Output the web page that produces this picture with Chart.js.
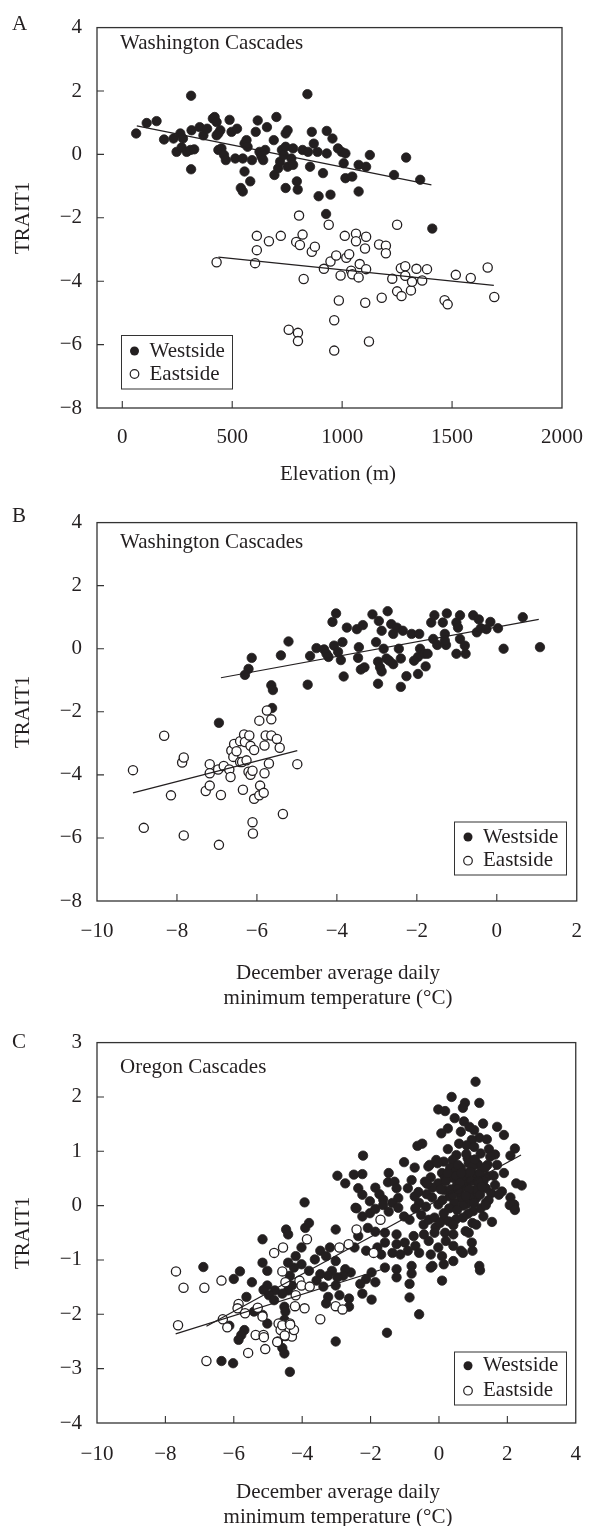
<!DOCTYPE html>
<html><head><meta charset="utf-8">
<script src="https://cdn.jsdelivr.net/npm/chart.js@4.4.1/dist/chart.umd.min.js"></script>
<style>
html,body{margin:0;padding:0;background:#fff;}
body{width:600px;height:1526px;position:relative;overflow:hidden;}
canvas{position:absolute;left:0;}
</style></head><body>
<canvas id="cA" width="600" height="495" style="top:0px"></canvas>
<canvas id="cB" width="600" height="520" style="top:495px"></canvas>
<canvas id="cC" width="600" height="511" style="top:1015px"></canvas>
<script>
// ---------------- DATA ----------------
// Panel A: Elevation (m) vs TRAIT1
const westA = [[63,0.66],[111,0.99],[156,1.05],[190,0.47],[233,0.5],[264,0.66],[276,0.5],[247,0.08],[270,0.22],[293,0.08],[315,0.76],[310,0.14],[327,0.16],[313,1.85],[313,-0.47],[352,0.86],[369,0.6],[386,0.81],[412,1.13],[420,1.18],[429,1.02],[437,0.66],[446,0.76],[429,0.6],[437,0.14],[451,0.19],[463,-0.02],[471,-0.18],[488,1.09],[497,0.71],[522,0.81],[514,-0.13],[548,-0.13],[556,-0.54],[539,-1.06],[548,-1.17],[582,-0.85],[556,0.34],[565,0.45],[570,0.24],[590,-0.18],[607,0.71],[616,1.07],[624,0.08],[633,-0.07],[641,-0.18],[650,0.14],[658,0.86],[689,0.45],[701,1.18],[692,-0.65],[709,-0.44],[718,-0.23],[726,0.14],[735,-0.02],[743,0.66],[752,0.76],[743,-1.06],[743,0.24],[752,-0.39],[769,-0.13],[777,-0.33],[777,0.19],[794,-0.85],[798,-1.11],[820,0.14],[842,1.9],[845,0.08],[862,0.71],[871,0.34],[854,-0.39],[888,0.08],[893,-1.32],[913,-0.59],[930,0.74],[930,0.03],[947,-1.27],[956,0.5],[981,0.19],[998,0.08],[1007,-0.28],[1015,-0.75],[1015,0.03],[1046,-0.7],[1075,-1.17],[1075,-0.33],[1109,-0.39],[1126,-0.02],[1236,-0.65],[1291,-0.1],[1355,-0.8],[927,-1.88],[1410,-2.34]];
const eastA = [[429,-3.4],[604,-3.43],[612,-2.57],[612,-3.02],[667,-2.74],[721,-2.57],[791,-2.76],[804,-1.93],[808,-2.86],[820,-2.53],[825,-3.93],[862,-3.07],[876,-2.91],[939,-2.22],[917,-3.61],[947,-3.38],[973,-3.19],[985,-4.61],[993,-3.82],[1012,-2.57],[1019,-3.26],[1032,-3.15],[1041,-3.67],[1046,-3.78],[1063,-2.5],[1063,-2.74],[1075,-3.88],[1080,-3.46],[1109,-2.6],[1104,-2.97],[1109,-3.62],[1105,-4.68],[964,-5.23],[964,-6.19],[1122,-5.9],[757,-5.53],[799,-5.63],[799,-5.89],[1168,-2.84],[1199,-2.88],[1199,-3.12],[1180,-4.52],[1250,-2.22],[1228,-3.92],[1250,-4.32],[1267,-3.59],[1270,-4.47],[1287,-3.53],[1287,-3.83],[1313,-4.29],[1318,-4.02],[1338,-3.61],[1364,-3.98],[1386,-3.62],[1466,-4.6],[1480,-4.73],[1517,-3.8],[1585,-3.9],[1662,-3.57],[1692,-4.5]];
const lineWestA = [[66,0.9],[1406,-0.96]];
const lineEastA = [[437,-3.24],[1690,-4.13]];
const xTicksA = [0,500,1000,1500,2000];
const yTicksA = [-8,-6,-4,-2,0,2,4];

// Panel B: December average daily minimum temperature vs TRAIT1 (Washington)
const westB = [[-6.13,-0.29],[-5.4,-0.21],[-5.21,0.23],[-4.67,-0.23],[-4.51,0.02],[-4.32,-0.02],[-4.26,-0.16],[-4.21,-0.26],[-4.11,0.85],[-4.02,1.12],[-4.07,0.1],[-3.97,-0.1],[-3.86,0.21],[-3.9,-0.36],[-3.75,0.67],[-3.5,0.62],[-3.47,-0.29],[-3.45,0.05],[-3.35,0.75],[-3.11,1.09],[-3.02,0.21],[-2.95,0.88],[-2.88,0.57],[-2.73,1.19],[-2.83,0],[-2.76,-0.31],[-2.64,0.78],[-2.59,0.47],[-2.5,0.67],[-2.45,0],[-2.4,-0.31],[-2.35,0.57],[-2.13,0.47],[-1.97,-0.26],[-1.94,0.47],[-1.92,0],[-1.81,-0.16],[-1.73,-0.16],[-1.64,0.83],[-1.56,1.06],[-1.59,0.31],[-1.49,0.12],[-1.35,0.83],[-1.3,0.47],[-1.27,0.12],[-1.25,1.12],[-1.3,0.26],[-1.01,-0.16],[-1.01,0.83],[-0.97,0.67],[-0.92,1.06],[-0.92,0.31],[-0.8,0.1],[-0.78,-0.16],[-0.59,1.06],[-0.45,0.93],[-0.5,0.52],[-0.4,0.65],[-0.26,0.62],[-0.16,0.85],[0.03,0.65],[0.17,0],[0.65,1.0],[1.08,0.05],[-6.21,-0.64],[-6.3,-0.83],[-4.73,-1.14],[-5.64,-1.16],[-5.6,-1.31],[-5.62,-1.88],[-6.95,-2.35],[-3.83,-0.88],[-3.4,-0.66],[-3.31,-0.59],[-2.97,-0.41],[-2.92,-0.59],[-2.97,-1.11],[-2.88,-0.72],[-2.69,-0.38],[-2.59,-0.49],[-2.4,-1.21],[-2.26,-0.87],[-2.07,-0.38],[-1.97,-0.8],[-1.78,-0.56]];
const eastB = [[-9.1,-3.85],[-8.83,-5.68],[-8.32,-2.76],[-8.15,-4.65],[-7.87,-3.61],[-7.83,-3.45],[-7.83,-5.92],[-7.28,-4.51],[-7.18,-4.34],[-7.18,-3.66],[-7.18,-3.95],[-6.97,-3.83],[-6.95,-6.22],[-6.9,-4.64],[-6.83,-3.72],[-6.69,-3.83],[-6.66,-4.07],[-6.64,-3.23],[-6.59,-3.43],[-6.57,-3.02],[-6.51,-3.25],[-6.42,-3.59],[-6.42,-2.93],[-6.37,-3.59],[-6.35,-4.47],[-6.32,-2.72],[-6.3,-2.96],[-6.26,-3.54],[-6.21,-3.9],[-6.19,-2.75],[-6.16,-3.08],[-6.16,-4.0],[-6.11,-3.87],[-6.1,-5.86],[-6.11,-5.5],[-6.07,-4.76],[-6.07,-3.21],[-5.94,-4.65],[-5.92,-4.34],[-5.94,-2.28],[-5.83,-4.57],[-5.81,-3.07],[-5.81,-3.95],[-5.78,-2.75],[-5.75,-1.96],[-5.7,-3.64],[-5.64,-2.24],[-5.64,-2.75],[-5.5,-2.86],[-5.43,-3.14],[-5.35,-5.24],[-4.99,-3.66]];
const lineWestB = [[-6.9,-0.92],[1.05,0.93]];
const lineEastB = [[-9.1,-4.57],[-4.99,-3.23]];
const xTicksB = [-10,-8,-6,-4,-2,0,2];
const yTicksB = [-8,-6,-4,-2,0,2,4];

// Panel C: December average daily minimum temperature vs TRAIT1 (Oregon)
const westC = [[1.07,2.28],[0.37,2.0],[1.18,1.89],[0.76,1.89],[0.7,1.8],[-0.02,1.77],[0.18,1.74],[0.46,1.61],[1.29,1.51],[0.73,1.55],[0.89,1.45],[1.03,1.39],[0.26,1.42],[0.07,1.33],[0.64,1.36],[1.7,1.45],[1.9,1.3],[1.18,1.25],[1.4,1.22],[0.96,1.21],[-0.49,1.14],[-0.63,1.1],[0.59,1.14],[0.81,1.11],[1.46,1.04],[2.22,1.05],[0.26,1.04],[1.03,1.08],[0.51,0.93],[1.22,0.96],[1.64,0.94],[2.09,0.92],[-2.22,0.92],[0.84,0.87],[0.4,0.84],[-0.08,0.84],[0.14,0.81],[-0.27,0.75],[-0.04,0.78],[0.87,0.78],[1.14,0.76],[1.7,0.75],[-1.02,0.8],[-0.71,0.7],[-0.31,0.72],[0.33,0.7],[0.64,0.69],[0.98,0.72],[1.42,0.75],[-1.47,0.6],[-2.49,0.57],[-2.24,0.58],[-2.97,0.55],[0.09,0.6],[0.48,0.63],[1.09,0.57],[1.42,0.54],[-0.24,0.52],[0.18,0.51],[0.81,0.46],[1.11,0.44],[-2.74,0.41],[-1.49,0.43],[-1.3,0.44],[-0.8,0.47],[-0.41,0.44],[-0.02,0.41],[0.53,0.38],[0.42,0.51],[0.7,0.54],[1.37,0.32],[1.64,0.38],[1.84,0.26],[2.26,0.41],[2.42,0.37],[-2.36,0.32],[-1.86,0.33],[-1.24,0.32],[-0.91,0.32],[-0.19,0.33],[0.14,0.29],[0.98,0.27],[1.53,0.23],[-2.24,0.2],[-1.74,0.21],[-1.19,0.14],[-0.71,0.17],[-0.36,0.21],[0.31,0.17],[0.64,0.14],[1.09,0.14],[2.09,0.15],[1.37,0.05],[-3.93,0.06],[-2.02,0.08],[-1.63,0.11],[-1.36,0.05],[-0.58,0.05],[-0.02,0.02],[0.81,0.03],[2.2,0.02],[-2.44,-0.04],[2.2,-0.04],
[0.2,0.45],[0.35,0.3],[0.5,0.55],[0.6,0.25],[0.75,0.35],[0.85,0.6],[0.95,0.45],[1.1,0.3],[1.2,0.6],[1.3,0.45],[0.1,0.1],[0.45,0.05],[0.7,0.0],[0.9,0.15],[1.0,-0.1],[1.2,0.2],[0.3,-0.05],[0.55,0.75],[0.8,0.95],[1.05,0.85],[-0.2,0.15],[-0.35,0.4],[0.62,0.42],[0.88,0.3],
[0.25,0.6],[0.4,0.2],[0.55,0.3],[0.65,0.6],[0.78,0.18],[0.92,0.62],[1.02,0.05],[1.15,0.45],[1.25,0.35],[1.35,0.7],[0.15,-0.25],[0.5,-0.25],[0.85,-0.15],[1.45,0.1],[1.6,0.55],[1.75,0.2],[1.9,0.6],[-0.6,0.25],[-0.45,-0.35],[-0.1,-0.4],[0.05,0.3],[1.3,-0.2],[1.55,-0.3],[1.5,0.9],
[-2.41,-0.05],[-2.24,-0.2],[-2.02,-0.14],[-1.86,-0.06],[-1.63,0.01],[-1.47,-0.11],[-1.19,-0.04],[-1.02,-0.2],[-0.86,-0.26],[-0.69,-0.05],[-0.52,-0.17],[-0.38,-0.02],[-0.3,-0.26],[-0.13,-0.22],[0.03,-0.32],[0.14,-0.14],[0.29,-0.29],[0.42,-0.36],[0.53,-0.08],[0.7,-0.22],[0.78,-0.47],[0.98,-0.32],[1.09,-0.35],[1.22,-0.05],[1.37,0.01],[2.07,0.01],[2.22,-0.08],[0.87,-0.5],[0.42,-0.53],[0.18,-0.5],[-0.13,-0.5],[-0.44,-0.53],[-0.74,-0.56],[-1.24,-0.53],[-1.58,-0.5],[-1.86,-0.48],[-2.08,-0.41],[-2.36,-0.56],[-3.02,-0.44],[-3.91,-0.41],[-3.8,-0.32],[-4.47,-0.44],[-4.41,-0.53],[-5.16,-0.62],[-2.47,-0.77],[-2.13,-0.83],[-1.8,-0.77],[-1.58,-0.68],[-1.24,-0.71],[-1.0,-0.68],[-0.69,-0.74],[-0.3,-0.65],[-0.02,-0.77],[0.2,-0.65],[0.42,-0.74],[0.64,-0.83],[0.96,-0.68],[0.98,-0.83],[0.7,-0.87],[-0.58,-0.87],[-0.91,-0.83],[-1.36,-0.87],[-1.69,-0.9],[-1.13,-0.9],[-0.24,-0.9],[0.09,-0.93],[0.42,-1.02],[0.14,-1.08],[-0.19,-1.11],[1.18,-1.11],[1.2,-1.19],[0.09,-1.38],[-0.24,-1.14],[-0.8,-1.11],[-0.8,-1.25],[-0.86,-1.44],[-0.86,-1.69],[-0.58,-2.0],[-1.52,-2.34],[-1.58,-1.14],[-1.24,-1.17],[-1.24,-1.32],[-1.97,-1.23],[-1.86,-1.41],[-2.13,-1.35],[-1.97,-1.73],[-2.24,-1.62],[-2.3,-1.44],[-2.58,-1.23],[-2.74,-1.17],[-2.8,-1.29],[-2.97,-1.32],[-3.13,-1.2],[-3.24,-1.29],[-3.02,-1.02],[-3.02,-1.47],[-2.91,-1.65],[-2.63,-1.71],[-2.63,-1.86],[-3.24,-1.68],[-3.3,-1.8],[-3.02,-2.5],[-3.38,-1.49],[-3.47,-1.26],[-3.58,-1.38],[-3.63,-0.99],[-3.8,-1.2],[-3.47,-0.83],[-3.3,-0.93],[-3.19,-0.77],[-4.02,-0.77],[-4.19,-0.93],[-4.02,-1.08],[-4.24,-1.14],[-4.41,-1.05],[-4.36,-1.29],[-4.3,-1.47],[-4.41,-1.56],[-4.58,-1.62],[-4.8,-1.56],[-5.02,-1.47],[-5.13,-1.55],[-4.97,-1.65],[-4.82,-1.74],[-4.52,-1.86],[-4.49,-1.95],[-4.52,-2.1],[-5.02,-2.17],[-5.69,-2.29],[-5.78,-2.38],[-5.86,-2.47],[-5.63,-1.68],[-5.47,-1.41],[-5.16,-1.05],[-5.02,-1.2],[-5.41,-1.95],[-5.16,-2.01],[-4.58,-2.62],[-4.52,-2.72],[-4.36,-3.06],[-6.13,-2.21],[-6.36,-2.86],[-6.02,-2.9],[-6.89,-1.13],[-6.0,-1.35],[-5.82,-1.21]];
const eastC = [[-7.69,-1.21],[-7.47,-1.51],[-6.86,-1.51],[-6.36,-1.38],[-7.63,-2.2],[-6.8,-2.86],[-6.32,-2.09],[-6.19,-2.24],[-5.86,-1.81],[-5.89,-1.89],[-5.67,-1.98],[-5.58,-2.71],[-5.36,-2.38],[-5.3,-1.88],[-5.16,-2.04],[-5.13,-2.38],[-5.08,-2.64],[-4.82,-0.87],[-4.56,-0.77],[-4.58,-1.21],[-4.49,-1.41],[-4.69,-2.17],[-4.63,-2.29],[-4.71,-2.5],[-4.58,-2.2],[-4.49,-2.4],[-4.36,-2.17],[-4.3,-2.41],[-4.24,-2.29],[-4.19,-1.65],[-4.21,-1.85],[-4.08,-1.38],[-4.02,-1.47],[-3.93,-1.89],[-3.86,-0.62],[-3.78,-1.49],[-3.47,-2.09],[-3.02,-1.85],[-2.91,-0.77],[-2.82,-1.91],[-2.64,-0.71],[-2.41,-0.44],[-1.91,-0.87],[-1.71,-0.26],[-5.12,-2.42],[-4.51,-2.39],[-4.73,-2.51],[-4.35,-2.19]];
const lineWestC = [[-6.8,-2.22],[2.4,0.93]];
const lineEastC = [[-7.7,-2.36],[-1.7,-1.18]];
const xTicksC = [-10,-8,-6,-4,-2,0,2,4];
const yTicksC = [-4,-3,-2,-1,0,1,2,3];

const seriesNames = ['Westside','Eastside'];

// ---------------- RENDERING ----------------
const INK = '#231f20';
const FONT = 'Liberation Serif, Times New Roman, serif';
const FS = 21;
const toXY = arr => arr.map(p => ({x: p[0], y: p[1]}));
const fmt = v => (v < 0 ? '\u2212' + Math.abs(v) : String(v));

function panelPlugin(cfg) {
  return {
    id: 'panelDecor' + cfg.id,
    afterDraw(chart) {
      const ctx = chart.ctx;
      const a = chart.chartArea;
      const xs = chart.scales.x, ys = chart.scales.y;
      ctx.save();
      ctx.strokeStyle = '#333';
      ctx.lineWidth = 1.3;
      ctx.strokeRect(a.left, a.top, a.right - a.left, a.bottom - a.top);
      ctx.lineWidth = 1.1;
      ctx.beginPath();
      cfg.xTicks.forEach(v => {
        const px = xs.getPixelForValue(v);
        if (px > a.left + 1 && px < a.right - 1) { ctx.moveTo(px, a.bottom); ctx.lineTo(px, a.bottom - 7); }
      });
      cfg.yTicks.forEach(v => {
        const py = ys.getPixelForValue(v);
        if (py > a.top + 1 && py < a.bottom - 1) { ctx.moveTo(a.left, py); ctx.lineTo(a.left + 7, py); }
      });
      ctx.stroke();
      ctx.fillStyle = INK;
      ctx.font = FS + 'px ' + FONT;
      ctx.textBaseline = 'middle';
      ctx.textAlign = 'left';
      ctx.fillText(cfg.letter, 12, cfg.letterY);
      ctx.fillText(cfg.inner, 120, cfg.innerY);
      ctx.textAlign = 'center';
      cfg.xTitle.forEach((t, i) => ctx.fillText(t, 338, cfg.xTitleY + i * 25));
      ctx.save();
      ctx.translate(23, (a.top + a.bottom) / 2);
      ctx.rotate(-Math.PI / 2);
      ctx.fillText('TRAIT1', 0, 0);
      ctx.restore();
      const L = cfg.legend;
      ctx.strokeStyle = '#333';
      ctx.lineWidth = 1;
      ctx.strokeRect(L.x, L.y, L.w, L.h);
      ctx.textAlign = 'left';
      ctx.fillStyle = INK;
      ctx.beginPath(); ctx.arc(L.mx, L.y1, 4.5, 0, Math.PI * 2); ctx.fill();
      ctx.fillStyle = '#fff'; ctx.strokeStyle = INK; ctx.lineWidth = 1.2;
      ctx.beginPath(); ctx.arc(L.mx, L.y2, 4.3, 0, Math.PI * 2); ctx.fill(); ctx.stroke();
      ctx.fillStyle = INK;
      ctx.fillText(seriesNames[0], L.tx, L.y1);
      ctx.fillText(seriesNames[1], L.tx, L.y2);
      ctx.restore();
    }
  };
}

function makePanel(cfg) {
  const H = cfg.height;
  return new Chart(document.getElementById(cfg.id), {
    type: 'scatter',
    data: {
      datasets: [
        {label: 'Westside fit', data: toXY(cfg.lineW), showLine: true, borderColor: INK, borderWidth: 1.2, pointRadius: 0, fill: false},
        {label: 'Eastside fit', data: toXY(cfg.lineE), showLine: true, borderColor: INK, borderWidth: 1.2, pointRadius: 0, fill: false},
        {label: 'Eastside', data: toXY(cfg.east), backgroundColor: '#ffffff', borderColor: INK, borderWidth: 1.3, pointRadius: 4.6, pointHoverRadius: 4.6},
        {label: 'Westside', data: toXY(cfg.west), backgroundColor: INK, borderColor: INK, borderWidth: 0.8, pointRadius: 4.7, pointHoverRadius: 4.7}
      ]
    },
    options: {
      responsive: false,
      maintainAspectRatio: false,
      devicePixelRatio: 1,
      animation: false,
      events: [],
      layout: {padding: {left: 0, right: 21, top: cfg.top, bottom: 0}},
      plugins: {legend: {display: false}, tooltip: {enabled: false}, title: {display: false}},
      scales: {
        x: {
          type: 'linear', min: cfg.xMin, max: cfg.xMax,
          afterBuildTicks: s => { s.ticks = cfg.xTicks.map(v => ({value: v})); },
          afterFit: s => { s.height = H - cfg.bottom; },
          ticks: {font: {family: FONT, size: FS}, color: INK, padding: cfg.xPad, callback: fmt, maxRotation: 0, autoSkip: false},
          grid: {display: false, drawTicks: false},
          border: {display: false}
        },
        y: {
          type: 'linear', min: cfg.yMin, max: cfg.yMax,
          afterBuildTicks: s => { s.ticks = cfg.yTicks.map(v => ({value: v})); },
          afterFit: s => { s.width = 97; },
          ticks: {font: {family: FONT, size: FS}, color: INK, padding: 15, callback: fmt, autoSkip: false},
          grid: {display: false, drawTicks: false},
          border: {display: false}
        }
      }
    },
    plugins: [panelPlugin(cfg)]
  });
}

makePanel({
  id: 'cA', height: 495, top: 23, bottom: 408, xPad: 17,
  xMin: -115, xMax: 2000, yMin: -8, yMax: 4, xTicks: xTicksA, yTicks: yTicksA,
  west: westA, east: eastA, lineW: lineWestA, lineE: lineEastA,
  letter: 'A', letterY: 24, inner: 'Washington Cascades', innerY: 43,
  xTitle: ['Elevation (m)'], xTitleY: 474,
  legend: {x: 121.5, y: 335.5, w: 111, h: 53.5, mx: 134.5, tx: 149.5, y1: 351, y2: 374}
});
makePanel({
  id: 'cB', height: 520, top: 19, bottom: 406, xPad: 18,
  xMin: -10, xMax: 2, yMin: -8, yMax: 4, xTicks: xTicksB, yTicks: yTicksB,
  west: westB, east: eastB, lineW: lineWestB, lineE: lineEastB,
  letter: 'B', letterY: 21, inner: 'Washington Cascades', innerY: 47,
  xTitle: ['December average daily', 'minimum temperature (\u00B0C)'], xTitleY: 478,
  legend: {x: 454.5, y: 327, w: 112, h: 53, mx: 468, tx: 483, y1: 342, y2: 365.7}
});
makePanel({
  id: 'cC', height: 511, top: 25, bottom: 408, xPad: 19,
  xMin: -10, xMax: 4, yMin: -4, yMax: 3, xTicks: xTicksC, yTicks: yTicksC,
  west: westC, east: eastC, lineW: lineWestC, lineE: lineEastC,
  letter: 'C', letterY: 27, inner: 'Oregon Cascades', innerY: 52,
  xTitle: ['December average daily', 'minimum temperature (\u00B0C)'], xTitleY: 477,
  legend: {x: 454.5, y: 337, w: 112, h: 53, mx: 468, tx: 483, y1: 350.7, y2: 375.7}
});
</script>
</body></html>
